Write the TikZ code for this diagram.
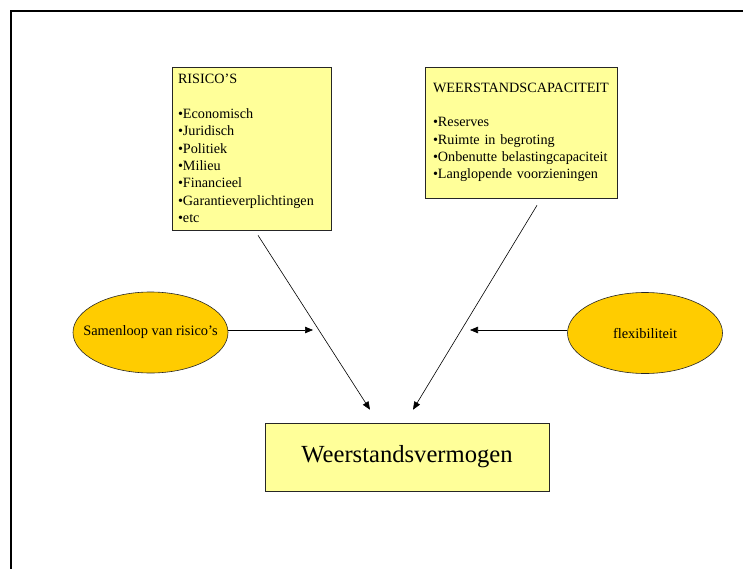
\documentclass[tikz,border=0pt]{standalone}
\usepackage{fontspec}
\setmainfont{Liberation Serif}
\usetikzlibrary{shapes.geometric, arrows.meta}

\definecolor{lichtgeel}{RGB}{255,255,153}
\definecolor{oranjegeel}{RGB}{255,204,0}

\begin{document}
\begin{tikzpicture}[x = 1pt, y = -1pt,
    geelvak/.style = {draw = black!85, line width = .6pt, fill = lichtgeel, inner ysep = 0pt, align = left,
      font = \fontsize{14.2}{17.3}\selectfont},
    ovaal/.style = {ellipse, draw = black!85, line width = .6pt, fill = oranjegeel, inner xsep = -20pt, inner ysep = 0pt,
      minimum width = 155pt, minimum height = 81pt, font = \fontsize{14.4}{17}\selectfont},
    pijl/.style = {-{Triangle[length = 8pt, width = 6.5pt]}, black, line width = .6pt}]

    \useasboundingbox (0,0) rectangle (743,569);
    \draw [line width = 2pt] (11,575) |- (750,11);

    % de twee vakken bovenaan
    \node [geelvak, text width = 147pt, inner xsep = 6pt, minimum height = 163pt] (risico) at (251.5,148.5)
      {RISICO’S\\[17.3pt] •Economisch\\ •Juridisch\\ •Politiek\\ •Milieu\\ •Financieel\\ •Garantieverplichtingen\\ •etc};
    \node [geelvak, text width = 180pt, inner xsep = 6pt, minimum height = 131pt] (capaciteit) at (521,132.5)
      {\hspace*{2pt}WEERSTANDSCAPACITEIT\\[17pt] \hspace*{2pt}•Reserves\\ \hspace*{2pt}•Ruimte in begroting\\ \hspace*{2pt}•Onbenutte belastingcapaciteit\\ \hspace*{2pt}•Langlopende voorzieningen};

    % ovalen links en rechts
    \node [ovaal] (samenloop) at (150.5,332.5) {Samenloop van risico’s};
    \node [ovaal] (flex) at (645,333) {flexibiliteit};

    % resultaat
    \node [geelvak, align = center, minimum width = 284pt, minimum height = 68pt,
      font = \fontsize{24.6}{28}\selectfont] (vermogen) at (407,457) {Weerstandsvermogen};

    \coordinate (samenpunt) at (313,330);
    \coordinate (flexpunt) at (470,330);

    \draw [pijl] ([xshift = 6.5pt, yshift = -5pt] risico.south) -- ([xshift = -37pt, yshift = 13pt] vermogen.north);
    \draw [pijl] ([xshift = 16pt, yshift = -7pt] capaciteit.south) -- ([xshift = 6pt, yshift = 13pt] vermogen.north);
    \draw [pijl] (samenloop.east |- samenpunt) -- (samenpunt);
    \draw [pijl] (flex.west |- flexpunt) -- (flexpunt);
\end{tikzpicture}
\end{document}
